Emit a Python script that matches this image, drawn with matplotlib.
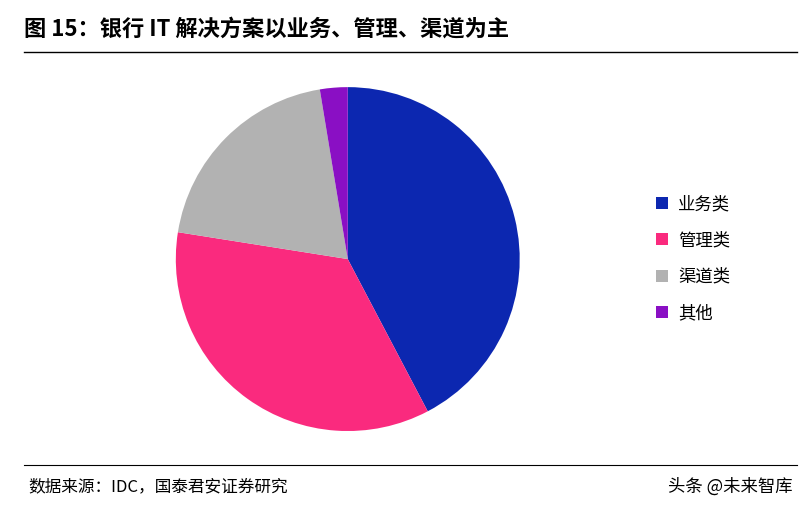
import matplotlib
matplotlib.use("Agg")
import matplotlib.pyplot as plt

plt.rcParams["font.family"] = ["Noto Sans CJK SC", "DejaVu Sans"]

labels = ["业务类", "管理类", "渠道类", "其他"]
shares = [42.3, 35.2, 19.9, 2.6]
colors = ["#0C27B0", "#FA2A7E", "#B2B2B2", "#8A0FC4"]

fig = plt.figure(figsize=(8.05, 5.07), dpi=100)
fig.text(0.03, 0.92, "图 15：银行 IT 解决方案以业务、管理、渠道为主",
         fontsize=16, fontweight="bold", ha="left", va="bottom")
fig.add_artist(plt.Line2D([0.03, 0.99], [0.897, 0.897], color="black", lw=1))
fig.add_artist(plt.Line2D([0.03, 0.99], [0.083, 0.083], color="black", lw=0.8))
fig.text(0.035, 0.04, "数据来源：IDC，国泰君安证券研究", fontsize=12, ha="left", va="center")
fig.text(0.985, 0.04, "头条 @未来智库", fontsize=12.5, ha="right", va="center")

ax = fig.add_axes([0.165, 0.065, 0.534, 0.848])
wedges, _ = ax.pie(shares, colors=colors, startangle=90, counterclock=False,
                   wedgeprops=dict(linewidth=0))
ax.set_aspect("equal")
fig.legend(wedges, labels, loc="center left", bbox_to_anchor=(0.795, 0.49),
           frameon=False, fontsize=12.5, handlelength=0.7, handleheight=0.7,
           labelspacing=1.05, handletextpad=0.6)

fig.savefig("out.png", dpi=100)
